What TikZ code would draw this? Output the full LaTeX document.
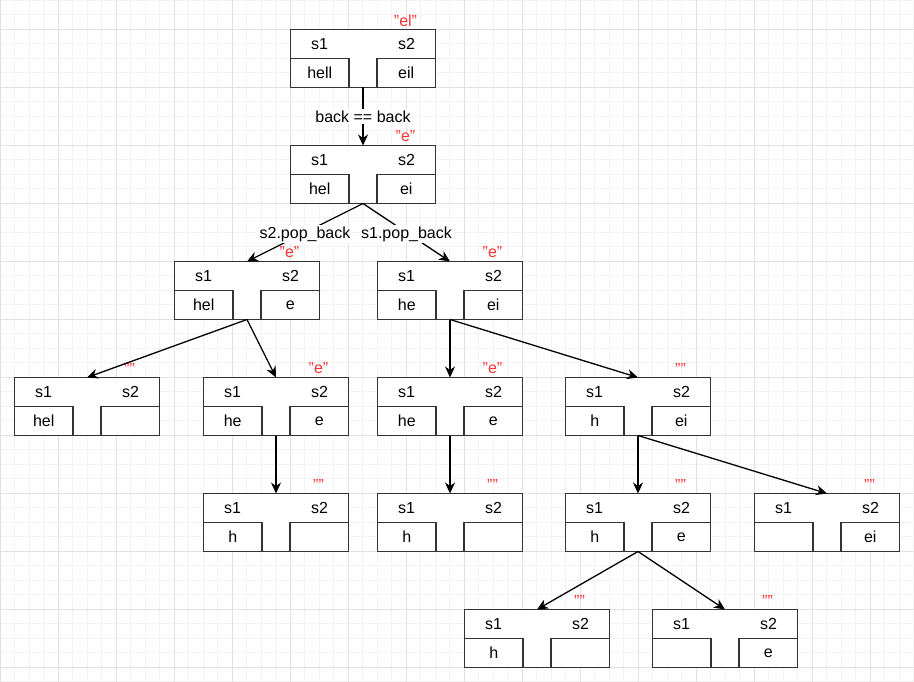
\documentclass[tikz,border=0pt]{standalone}
\usepackage{fontspec}
\setmainfont{Liberation Sans}
\usetikzlibrary{arrows.meta}
\definecolor{gridmin}{HTML}{F3F3F3}
\definecolor{gridmaj}{HTML}{E2E2E2}
\definecolor{lblred}{HTML}{FF3333}
\definecolor{boxline}{HTML}{333333}
\newcommand{\stbox}[6]{%
  \node[outerbox] (#1) at (#2+72.5,#3+29) {};
  \node[subbox, anchor=south west] (#1l) at (#1.south west) {#4};
  \node[subbox, anchor=south east] (#1r) at (#1.south east) {#5};
  \node[txt] (#1a) at (#2+29,#3+14.5) {s1};
  \node[txt] (#1b) at (#2+116,#3+14.5) {s2};
  \node[redlbl] (#1q) at (#2+115,#3-9) {"#6"};
}
\begin{document}
\begin{tikzpicture}[x=1pt,y=-1pt,
  font=\fontsize{16}{19}\selectfont,
  outerbox/.style={draw=boxline, line width=1.3pt, fill=white, minimum width=145pt, minimum height=58pt, inner sep=0pt, outer sep=0pt},
  subbox/.style={draw=boxline, line width=1.3pt, minimum width=58.5pt, minimum height=29pt, inner sep=0pt, outer sep=0pt},
  txt/.style={inner sep=0pt},
  redlbl/.style={text=lblred, inner sep=0pt},
  arr/.style={draw=black, line width=1.3pt, -{Stealth[length=11pt,width=10pt,inset=3.5pt]}},
  elbl/.style={fill=white, inner sep=1.5pt, text=black}
]
\useasboundingbox (0,0) rectangle (914,682);
\fill[white] (0,0) rectangle (914,682);
\foreach \i in {0,...,63} {
  \draw[gridmin, line width=0.7pt] (\i*14.5+0.3,0) -- (\i*14.5+0.3,682);
}
\foreach \j in {0,...,47} {
  \draw[gridmin, line width=0.7pt] (0,\j*14.5+0.3) -- (914,\j*14.5+0.3);
}
\foreach \i in {0,...,15} {
  \draw[gridmaj, line width=0.8pt] (\i*58+0.3,0) -- (\i*58+0.3,682);
}
\foreach \j in {0,...,11} {
  \draw[gridmaj, line width=0.8pt] (0,\j*58+29.3) -- (914,\j*58+29.3);
}

\stbox{b1}{290.5}{29.5}{hell}{eil}{el}
\stbox{b2}{290.5}{145.5}{hel}{ei}{e}
\stbox{b3}{174.5}{261.5}{hel}{e}{e}
\stbox{b4}{377.5}{261.5}{he}{ei}{e}
\stbox{b5}{14.5}{377.5}{hel}{}{}
\stbox{b6}{203.5}{377.5}{he}{e}{e}
\stbox{b7}{377.5}{377.5}{he}{e}{e}
\stbox{b8}{565.5}{377.5}{h}{ei}{}
\stbox{b9}{203.5}{493.5}{h}{}{}
\stbox{b10}{377.5}{493.5}{h}{}{}
\stbox{b11}{565.5}{493.5}{h}{e}{}
\stbox{b12}{754.5}{493.5}{}{ei}{}
\stbox{b13}{464.5}{609.5}{h}{}{}
\stbox{b14}{652.5}{609.5}{}{e}{}

\draw[arr] (b1.south) -- node[elbl]{back == back} (b2.north);
\draw[arr] (b2.south) -- node[elbl, yshift=-1.5pt]{s2.pop\_back} (b3.north);
\draw[arr] (b2.south) -- node[elbl, yshift=-1.5pt]{s1.pop\_back} (b4.north);
\draw[arr] (b3.south) -- (b5.north);
\draw[arr] (b3.south) -- (b6.north);
\draw[arr] (b4.south) -- (b7.north);
\draw[arr] (b4.south) -- (b8.north);
\draw[arr] (b6.south) -- (b9.north);
\draw[arr] (b7.south) -- (b10.north);
\draw[arr] (b8.south) -- (b11.north);
\draw[arr] (b8.south) -- (b12.north);
\draw[arr] (b11.south) -- (b13.north);
\draw[arr] (b11.south) -- (b14.north);
\end{tikzpicture}
\end{document}
